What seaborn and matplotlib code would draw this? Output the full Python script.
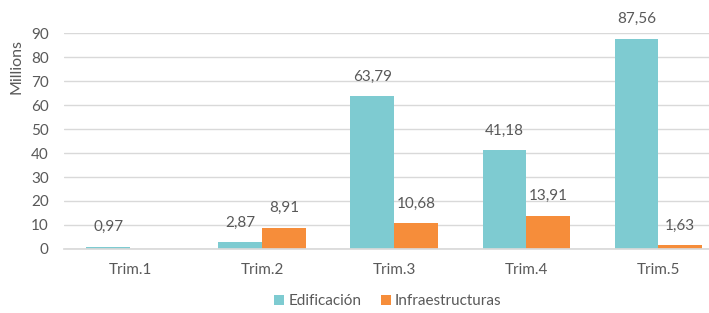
import matplotlib
matplotlib.use("Agg")
import matplotlib.pyplot as plt
import numpy as np
import pandas as pd
import seaborn as sns

# Data (millions)
trimestres = ["Trim.1", "Trim.2", "Trim.3", "Trim.4", "Trim.5"]
edificacion = [0.97, 2.87, 63.79, 41.18, 87.56]
infraestructuras = [np.nan, 8.91, 10.68, 13.91, 1.63]
series = ["Edificación", "Infraestructuras"]
colors = ["#7ECBD1", "#F68D3A"]

df = pd.DataFrame({
    "Trimestre": trimestres * 2,
    "Serie": [series[0]] * len(trimestres) + [series[1]] * len(trimestres),
    "Valor": edificacion + infraestructuras,
})

sns.set_theme(style="white")
plt.rcParams["font.family"] = ["Lato", "DejaVu Sans"]
text_color = "#595959"

fig = plt.figure(figsize=(7.09, 3.13), dpi=100)
# the plot area runs a bit past the right edge, like the cropped original
ax = fig.add_axes([0.0903, 0.2045, 0.931, 0.69])

sns.barplot(data=df, x="Trimestre", y="Valor", hue="Serie", order=trimestres,
            hue_order=series, palette=colors, width=0.66, saturation=1,
            linewidth=0, legend=False, ax=ax)

for cont in ax.containers:
    labels = ["" if np.isnan(v) else f"{v:.2f}".replace(".", ",") for v in cont.datavalues]
    ax.bar_label(cont, labels=labels, padding=9, fontsize=11, color=text_color, clip_on=False)

ax.set_ylim(0, 90)
ax.set_xlim(-0.5, len(trimestres) - 0.5)
ax.set_yticks(range(0, 91, 10))
ax.yaxis.grid(True, color="#D9D9D9", linewidth=1)
ax.set_axisbelow(True)
for s in ["top", "right", "left"]:
    ax.spines[s].set_visible(False)
ax.spines["bottom"].set_color("#D9D9D9")
ax.tick_params(axis="both", length=0, labelsize=11, colors=text_color)
ax.tick_params(axis="y", pad=11)
ax.tick_params(axis="x", pad=10)
ax.set_xlabel("")
ax.set_ylabel("Millions", fontsize=11.5, color=text_color)
ax.yaxis.set_label_coords(-0.062, 0.843)

handles = [plt.Line2D([], [], marker="s", linestyle="", markersize=7,
                      markerfacecolor=c, markeredgewidth=0) for c in colors]
fig.legend(handles, series, loc="center", bbox_to_anchor=(0.546, 0.037), ncol=2,
           frameon=False, fontsize=11, labelcolor=text_color,
           handlelength=0.8, handletextpad=0.2, columnspacing=1.2)

fig.savefig("out.png", dpi=100)
